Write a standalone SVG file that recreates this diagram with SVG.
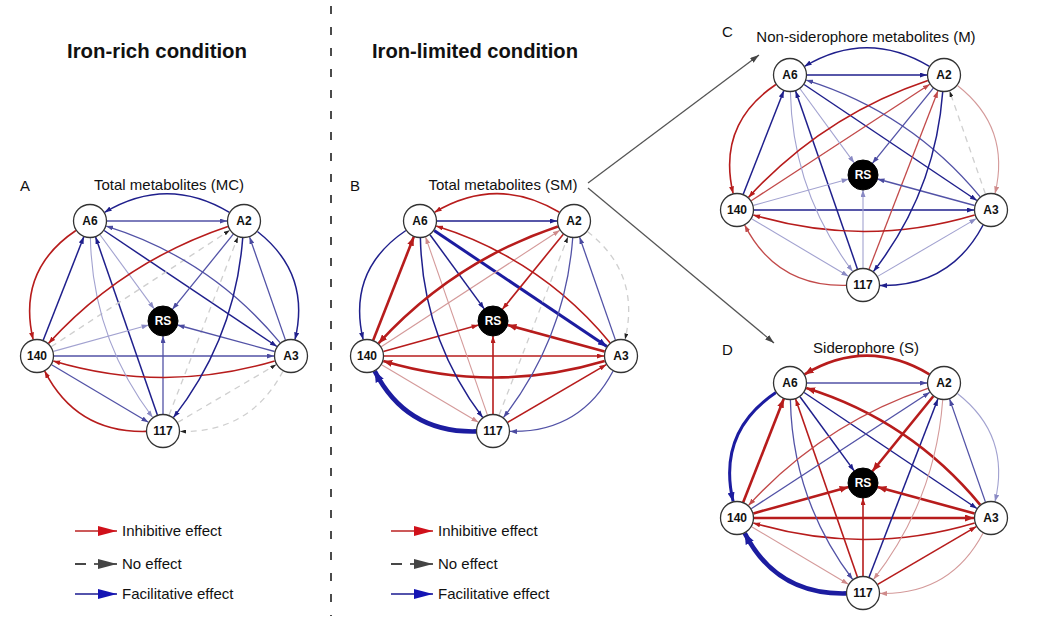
<svg xmlns="http://www.w3.org/2000/svg" width="1046" height="628" viewBox="0 0 1046 628">
<style>
text{font-family:"Liberation Sans",Arial,Helvetica,sans-serif;fill:#111;}
.t{font-weight:bold;font-size:20px;}
.s{font-size:15px;}
.nl{font-weight:bold;font-size:12px;text-anchor:middle;}
.rsl{font-weight:bold;font-size:12px;text-anchor:middle;fill:#fff;}
.nc{fill:#fff;stroke:#333;stroke-width:1.3;}
.rsc{fill:#000;stroke:#000;stroke-width:1;}
path{fill:none;}
.rd{stroke:#b71c1c;stroke-width:1.6;marker-end:url(#mRd);}
.rt{stroke:#b71c1c;stroke-width:2.6;marker-end:url(#mRt);}
.rm{stroke:#c24a4a;stroke-width:1.3;marker-end:url(#mRm);}
.rl{stroke:#d49a9a;stroke-width:1.1;marker-end:url(#mRl);}
.bd{stroke:#1f1f8c;stroke-width:1.5;marker-end:url(#mBd);}
.bm{stroke:#5252a6;stroke-width:1.3;marker-end:url(#mBm);}
.bl{stroke:#a2a2d0;stroke-width:1.1;marker-end:url(#mBl);}
.bt{stroke:#1c1ca0;stroke-width:3;marker-end:url(#mBt);}
.bx{stroke:#1c1ca0;stroke-width:4.6;marker-end:url(#mBx);}
.nd{stroke:#cfcfcf;stroke-width:1.3;stroke-dasharray:6 5;marker-end:url(#mK);}
.gc{stroke:#555;stroke-width:1.3;marker-end:url(#mG);}
</style>
<defs>
<marker id="mRd" markerUnits="userSpaceOnUse" markerWidth="7" markerHeight="5" refX="7" refY="2.5" orient="auto"><path d="M0,0 L7,2.5 L0,5 z" style="fill:#b71c1c"/></marker>
<marker id="mRt" markerUnits="userSpaceOnUse" markerWidth="9" markerHeight="7" refX="9" refY="3.5" orient="auto"><path d="M0,0 L9,3.5 L0,7 z" style="fill:#b71c1c"/></marker>
<marker id="mRm" markerUnits="userSpaceOnUse" markerWidth="7" markerHeight="5" refX="7" refY="2.5" orient="auto"><path d="M0,0 L7,2.5 L0,5 z" style="fill:#c24a4a"/></marker>
<marker id="mRl" markerUnits="userSpaceOnUse" markerWidth="7" markerHeight="5" refX="7" refY="2.5" orient="auto"><path d="M0,0 L7,2.5 L0,5 z" style="fill:#cf8a8a"/></marker>
<marker id="mBd" markerUnits="userSpaceOnUse" markerWidth="7" markerHeight="5" refX="7" refY="2.5" orient="auto"><path d="M0,0 L7,2.5 L0,5 z" style="fill:#1f1f8c"/></marker>
<marker id="mBm" markerUnits="userSpaceOnUse" markerWidth="7" markerHeight="5" refX="7" refY="2.5" orient="auto"><path d="M0,0 L7,2.5 L0,5 z" style="fill:#4a4aa0"/></marker>
<marker id="mBl" markerUnits="userSpaceOnUse" markerWidth="7" markerHeight="5" refX="7" refY="2.5" orient="auto"><path d="M0,0 L7,2.5 L0,5 z" style="fill:#8a8ac4"/></marker>
<marker id="mBt" markerUnits="userSpaceOnUse" markerWidth="9" markerHeight="7" refX="9" refY="3.5" orient="auto"><path d="M0,0 L9,3.5 L0,7 z" style="fill:#1c1ca0"/></marker>
<marker id="mBx" markerUnits="userSpaceOnUse" markerWidth="11" markerHeight="9" refX="11" refY="4.5" orient="auto"><path d="M0,0 L11,4.5 L0,9 z" style="fill:#1c1ca0"/></marker>
<marker id="mK" markerUnits="userSpaceOnUse" markerWidth="6" markerHeight="4" refX="6" refY="2" orient="auto"><path d="M0,0 L6,2 L0,4 z" style="fill:#222"/></marker>
<marker id="mG" markerUnits="userSpaceOnUse" markerWidth="9" markerHeight="6" refX="9" refY="3" orient="auto"><path d="M0,0 L9,3 L0,6 z" style="fill:#444"/></marker>
<marker id="mLR" markerUnits="userSpaceOnUse" markerWidth="19" markerHeight="10" refX="19" refY="5" orient="auto"><path d="M0,0 L19,5 L0,10 z" style="fill:#d0101a"/></marker>
<marker id="mLK" markerUnits="userSpaceOnUse" markerWidth="19" markerHeight="10" refX="19" refY="5" orient="auto"><path d="M0,0 L19,5 L0,10 z" style="fill:#444"/></marker>
<marker id="mLB" markerUnits="userSpaceOnUse" markerWidth="19" markerHeight="10" refX="19" refY="5" orient="auto"><path d="M0,0 L19,5 L0,10 z" style="fill:#1414b4"/></marker>
</defs>
<rect x="0" y="0" width="1046" height="628" fill="#fff"/>

<g id="titles">
<text class="t" x="67" y="58" textLength="180" lengthAdjust="spacingAndGlyphs">Iron-rich condition</text>
<text class="t" x="372" y="58" textLength="206" lengthAdjust="spacingAndGlyphs">Iron-limited condition</text>
<text class="s" x="20" y="191">A</text>
<text class="s" x="169" y="190" text-anchor="middle">Total metabolites (MC)</text>
<text class="s" x="350" y="191">B</text>
<text class="s" x="503" y="190" text-anchor="middle">Total metabolites (SM)</text>
<text class="s" x="722" y="37">C</text>
<text class="s" x="866" y="42" text-anchor="middle">Non-siderophore metabolites (M)</text>
<text class="s" x="722" y="355">D</text>
<text class="s" x="866" y="353" text-anchor="middle">Siderophore (S)</text>
</g>

<line id="divider" x1="331" y1="6" x2="331" y2="616" stroke="#111" stroke-width="1.5" stroke-dasharray="8 13"/>

<g id="connectors-panels">
<path class="gc" d="M588,183 L759,55"/>
<path class="gc" d="M588,188 L774,343"/>
</g>

<!-- Panel A edges -->
<g id="edges-A" transform="translate(163,321)">
<path class="bm" d="M-56,-100 L64,-100"/>
<path class="bd" d="M-119.8,19.2 L-79.2,-84.2"/>
<path class="bm" d="M122.4,18.9 L86.6,-83.9"/>
<path class="bm" d="M-109,35 L111,35"/>
<path class="bm" d="M-111.4,43.7 L-14.6,101.3"/>
<path class="nd" d="M14.7,101.4 L113.3,43.6"/>
<path class="bd" d="M-58.9,-90.5 L113.9,25.5"/>
<path class="bd" d="M-5.6,93.9 L-67.4,-83.9"/>
<path class="nd" d="M-111.8,25.7 L66.8,-90.7"/>
<path class="nd" d="M6.1,94.1 L74.9,-84.1"/>
<path class="bl" d="M-63,-86.3 L-8.8,-12.1"/>
<path class="bm" d="M70.3,-86.8 L9.4,-11.7"/>
<path class="bl" d="M-109.6,30.4 L-14.4,4"/>
<path class="bm" d="M111.6,30.5 L14.5,4"/>
<path class="bm" d="M0,93 L0,15"/>
<path class="bd" d="M66.4,-108.7 Q4,-146 -58.4,-108.7"/>
<path class="rd" d="M-87.1,-90.5 Q-146.1,-50.8 -129.9,18.4"/>
<path class="bd" d="M94.4,-89.5 Q148,-47.6 132,18.5"/>
<path class="rd" d="M111.7,39.9 Q1,73 -109.7,39.9"/>
<path class="rd" d="M-17,110.4 Q-86.6,112 -118.3,50.1"/>
<path class="nd" d="M120.1,50 Q87.2,112.2 17,110.4"/>
<path class="bm" d="M117.2,21.9 Q47.6,-62.4 -56.8,-94.9"/>
<path class="bl" d="M-72.6,-83 Q-70.5,16.8 -10.3,96.5"/>
<path class="rd" d="M64.9,-94.6 Q-40,-59.3 -114.5,22.4"/>
<path class="bd" d="M79.7,-83 Q72.2,17.2 10.4,96.6"/>
</g>

<!-- Panel B edges -->
<g id="edges-B" transform="translate(493,321)">
<path class="bd" d="M-56,-100 L64,-100"/>
<path class="rt" d="M-119.8,19.2 L-79.2,-84.2"/>
<path class="bm" d="M122.4,18.9 L86.6,-83.9"/>
<path class="rd" d="M-109,35 L111,35"/>
<path class="rl" d="M-111.4,43.7 L-14.6,101.3"/>
<path class="rd" d="M14.7,101.4 L113.3,43.6"/>
<path class="bt" d="M-58.9,-90.5 L113.9,25.5"/>
<path class="rl" d="M-5.6,93.9 L-67.4,-83.9"/>
<path class="rl" d="M-111.8,25.7 L66.8,-90.7"/>
<path class="nd" d="M6.1,94.1 L74.9,-84.1"/>
<path class="bd" d="M-63,-86.3 L-8.8,-12.1"/>
<path class="rd" d="M70.3,-86.8 L9.4,-11.7"/>
<path class="rd" d="M-109.6,30.4 L-14.4,4"/>
<path class="rt" d="M111.6,30.5 L14.5,4"/>
<path class="rd" d="M0,93 L0,15"/>
<path class="rd" d="M66.4,-108.7 Q4,-146 -58.4,-108.7"/>
<path class="bd" d="M-87.1,-90.5 Q-146.1,-50.8 -129.9,18.4"/>
<path class="nd" d="M94.4,-89.5 Q148,-47.6 132,18.5"/>
<path class="rt" d="M111.7,39.9 Q1,73 -109.7,39.9"/>
<path class="bx" d="M-17,110.4 Q-86.6,112 -118.3,50.1"/>
<path class="bm" d="M120.1,50 Q87.2,112.2 17,110.4"/>
<path class="rd" d="M117.2,21.9 Q47.6,-62.4 -56.8,-94.9"/>
<path class="bd" d="M-72.6,-83 Q-70.5,16.8 -10.3,96.5"/>
<path class="rt" d="M64.9,-94.6 Q-40,-59.3 -114.5,22.4"/>
<path class="bm" d="M79.7,-83 Q72.2,17.2 10.4,96.6"/>
</g>

<!-- Panel C edges -->
<g id="edges-C" transform="translate(863,175)">
<path class="bd" d="M-56,-100 L64,-100"/>
<path class="bd" d="M-119.8,19.2 L-79.2,-84.2"/>
<path class="nd" d="M122.4,18.9 L86.6,-83.9"/>
<path class="bd" d="M-109,35 L111,35"/>
<path class="bl" d="M-111.4,43.7 L-14.6,101.3"/>
<path class="bl" d="M14.7,101.4 L113.3,43.6"/>
<path class="bd" d="M-58.9,-90.5 L113.9,25.5"/>
<path class="bd" d="M-5.6,93.9 L-67.4,-83.9"/>
<path class="rm" d="M-111.8,25.7 L66.8,-90.7"/>
<path class="rm" d="M6.1,94.1 L74.9,-84.1"/>
<path class="bl" d="M-63,-86.3 L-8.8,-12.1"/>
<path class="bm" d="M70.3,-86.8 L9.4,-11.7"/>
<path class="bl" d="M-109.6,30.4 L-14.4,4"/>
<path class="bm" d="M111.6,30.5 L14.5,4"/>
<path class="bl" d="M0,93 L0,15"/>
<path class="bd" d="M66.4,-108.7 Q4,-146 -58.4,-108.7"/>
<path class="rd" d="M-87.1,-90.5 Q-146.1,-50.8 -129.9,18.4"/>
<path class="rl" d="M94.4,-89.5 Q148,-47.6 132,18.5"/>
<path class="rd" d="M111.7,39.9 Q1,73 -109.7,39.9"/>
<path class="rm" d="M-17,110.4 Q-86.6,112 -118.3,50.1"/>
<path class="bd" d="M120.1,50 Q87.2,112.2 17,110.4"/>
<path class="bm" d="M117.2,21.9 Q47.6,-62.4 -56.8,-94.9"/>
<path class="bl" d="M-72.6,-83 Q-70.5,16.8 -10.3,96.5"/>
<path class="rd" d="M64.9,-94.6 Q-40,-59.3 -114.5,22.4"/>
<path class="bd" d="M79.7,-83 Q72.2,17.2 10.4,96.6"/>
</g>

<!-- Panel D edges -->
<g id="edges-D" transform="translate(863,483)">
<path class="bm" d="M-56,-100 L64,-100"/>
<path class="rt" d="M-119.8,19.2 L-79.2,-84.2"/>
<path class="bm" d="M122.4,18.9 L86.6,-83.9"/>
<path class="rt" d="M-109,35 L111,35"/>
<path class="rl" d="M-111.4,43.7 L-14.6,101.3"/>
<path class="rd" d="M14.7,101.4 L113.3,43.6"/>
<path class="bd" d="M-58.9,-90.5 L113.9,25.5"/>
<path class="rd" d="M-5.6,93.9 L-67.4,-83.9"/>
<path class="bm" d="M-111.8,25.7 L66.8,-90.7"/>
<path class="bd" d="M6.1,94.1 L74.9,-84.1"/>
<path class="bd" d="M-63,-86.3 L-8.8,-12.1"/>
<path class="rt" d="M70.3,-86.8 L9.4,-11.7"/>
<path class="rt" d="M-109.6,30.4 L-14.4,4"/>
<path class="rt" d="M111.6,30.5 L14.5,4"/>
<path class="rd" d="M0,93 L0,15"/>
<path class="rt" d="M66.4,-108.7 Q4,-146 -58.4,-108.7"/>
<path class="bt" d="M-87.1,-90.5 Q-146.1,-50.8 -129.9,18.4"/>
<path class="bl" d="M94.4,-89.5 Q148,-47.6 132,18.5"/>
<path class="rd" d="M111.7,39.9 Q1,73 -109.7,39.9"/>
<path class="bx" d="M-17,110.4 Q-86.6,112 -118.3,50.1"/>
<path class="rl" d="M120.1,50 Q87.2,112.2 17,110.4"/>
<path class="rt" d="M117.2,21.9 Q47.6,-62.4 -56.8,-94.9"/>
<path class="bm" d="M-72.6,-83 Q-70.5,16.8 -10.3,96.5"/>
<path class="rm" d="M64.9,-94.6 Q-40,-59.3 -114.5,22.4"/>
<path class="rl" d="M79.7,-83 Q72.2,17.2 10.4,96.6"/>
</g>

<!-- Nodes -->
<g id="nodes-A" transform="translate(163,321)">
<g id="A-A6"><circle class="nc" cx="-73" cy="-100" r="16.5"/><text class="nl" x="-73" y="-95.7">A6</text></g>
<g id="A-A2"><circle class="nc" cx="81" cy="-100" r="16.5"/><text class="nl" x="81" y="-95.7">A2</text></g>
<g id="A-140"><circle class="nc" cx="-126" cy="35" r="16.5"/><text class="nl" x="-126" y="39.3">140</text></g>
<g id="A-A3"><circle class="nc" cx="128" cy="35" r="16.5"/><text class="nl" x="128" y="39.3">A3</text></g>
<g id="A-117"><circle class="nc" cx="0" cy="110" r="16.5"/><text class="nl" x="0" y="114.3">117</text></g>
<g id="A-RS"><circle class="rsc" cx="0" cy="0" r="15"/><text class="rsl" x="0" y="4.3">RS</text></g>
</g>
<g id="nodes-B" transform="translate(493,321)">
<g id="B-A6"><circle class="nc" cx="-73" cy="-100" r="16.5"/><text class="nl" x="-73" y="-95.7">A6</text></g>
<g id="B-A2"><circle class="nc" cx="81" cy="-100" r="16.5"/><text class="nl" x="81" y="-95.7">A2</text></g>
<g id="B-140"><circle class="nc" cx="-126" cy="35" r="16.5"/><text class="nl" x="-126" y="39.3">140</text></g>
<g id="B-A3"><circle class="nc" cx="128" cy="35" r="16.5"/><text class="nl" x="128" y="39.3">A3</text></g>
<g id="B-117"><circle class="nc" cx="0" cy="110" r="16.5"/><text class="nl" x="0" y="114.3">117</text></g>
<g id="B-RS"><circle class="rsc" cx="0" cy="0" r="15"/><text class="rsl" x="0" y="4.3">RS</text></g>
</g>
<g id="nodes-C" transform="translate(863,175)">
<g id="C-A6"><circle class="nc" cx="-73" cy="-100" r="16.5"/><text class="nl" x="-73" y="-95.7">A6</text></g>
<g id="C-A2"><circle class="nc" cx="81" cy="-100" r="16.5"/><text class="nl" x="81" y="-95.7">A2</text></g>
<g id="C-140"><circle class="nc" cx="-126" cy="35" r="16.5"/><text class="nl" x="-126" y="39.3">140</text></g>
<g id="C-A3"><circle class="nc" cx="128" cy="35" r="16.5"/><text class="nl" x="128" y="39.3">A3</text></g>
<g id="C-117"><circle class="nc" cx="0" cy="110" r="16.5"/><text class="nl" x="0" y="114.3">117</text></g>
<g id="C-RS"><circle class="rsc" cx="0" cy="0" r="15"/><text class="rsl" x="0" y="4.3">RS</text></g>
</g>
<g id="nodes-D" transform="translate(863,483)">
<g id="D-A6"><circle class="nc" cx="-73" cy="-100" r="16.5"/><text class="nl" x="-73" y="-95.7">A6</text></g>
<g id="D-A2"><circle class="nc" cx="81" cy="-100" r="16.5"/><text class="nl" x="81" y="-95.7">A2</text></g>
<g id="D-140"><circle class="nc" cx="-126" cy="35" r="16.5"/><text class="nl" x="-126" y="39.3">140</text></g>
<g id="D-A3"><circle class="nc" cx="128" cy="35" r="16.5"/><text class="nl" x="128" y="39.3">A3</text></g>
<g id="D-117"><circle class="nc" cx="0" cy="110" r="16.5"/><text class="nl" x="0" y="114.3">117</text></g>
<g id="D-RS"><circle class="rsc" cx="0" cy="0" r="15"/><text class="rsl" x="0" y="4.3">RS</text></g>
</g>

<!-- Legends -->
<g id="legend-A">
<path d="M75,531 L117,531" style="stroke:#b22;stroke-width:1.6;marker-end:url(#mLR)"/>
<text class="s" x="122" y="536">Inhibitive effect</text>
<path d="M75,564 L86,564" style="stroke:#333;stroke-width:1.8"/>
<path d="M94,564 L117,564" style="stroke:#333;stroke-width:1.6;marker-end:url(#mLK)"/>
<text class="s" x="122" y="569">No effect</text>
<path d="M75,594 L117,594" style="stroke:#1a1a90;stroke-width:1.6;marker-end:url(#mLB)"/>
<text class="s" x="122" y="599">Facilitative effect</text>
</g>
<g id="legend-B">
<path d="M391,531 L433,531" style="stroke:#b22;stroke-width:1.6;marker-end:url(#mLR)"/>
<text class="s" x="438" y="536">Inhibitive effect</text>
<path d="M391,564 L402,564" style="stroke:#333;stroke-width:1.8"/>
<path d="M410,564 L433,564" style="stroke:#333;stroke-width:1.6;marker-end:url(#mLK)"/>
<text class="s" x="438" y="569">No effect</text>
<path d="M391,594 L433,594" style="stroke:#1a1a90;stroke-width:1.6;marker-end:url(#mLB)"/>
<text class="s" x="438" y="599">Facilitative effect</text>
</g>
</svg>
